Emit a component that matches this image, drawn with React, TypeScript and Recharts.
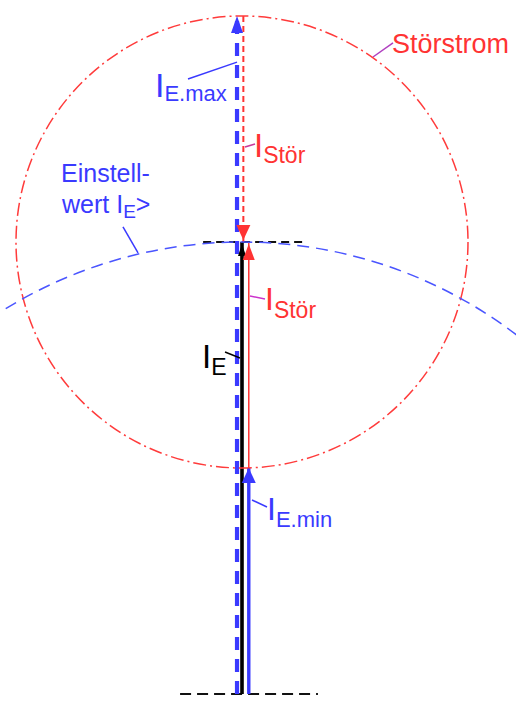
import { ComposedChart, Line, XAxis, YAxis, ReferenceDot, ReferenceLine } from 'recharts';

// Zeigerdiagramm, Einheit: Einstellwert I_E> = 100
const vectorNames = ['I_E', 'I_E.min', 'I_Stör (unten)', 'I_E.max', 'I_Stör (oben)'];
const vectorX = [0, 1.5, 1.5, -1.1, 0.3];
const vectorFrom = [0, 0, 50, 0, 150];
const vectorTo = [100, 50, 100, 150, 100];

const circleNames = ['Störstrom', 'Einstellwert'];
const circleCx = [0, 0];
const circleCy = [100, 0];
const circleR = [50, 100];

// gestrichelte Hilfslinien (Nullpunkt und Spitze von I_E)
const helperY = [100, 0];
const helperX1 = [-8.6, -13.7];
const helperX2 = [13.3, 16.8];

const X_MIN = -53.54;
const X_MAX = 60.62;
const Y_MIN = -2.21;
const Y_MAX = 153.54;
const W = 516;
const H = 704;
const PX = W / (X_MAX - X_MIN);

const BLUE = '#3a3aff';
const RED = '#ff3333';
const FONT = '"Liberation Sans", Arial, sans-serif';

const styles = [
  { stroke: '#000', width: 3.6, dash: undefined, head: { c: '#000', w: 4, l: 12, shift: 2 } },
  { stroke: BLUE, width: 3.4, dash: undefined, head: { c: BLUE, w: 7, l: 15, shift: 0 } },
  { stroke: RED, width: 1.5, dash: undefined, head: { c: RED, w: 6, l: 16, shift: 2 } },
  { stroke: BLUE, width: 4.2, dash: '13 9', head: { c: BLUE, w: 6, l: 17, shift: 0 } },
  { stroke: RED, width: 2, dash: '6 4', head: { c: RED, w: 7, l: 15, shift: 2 } },
];

const leaders = [
  { p: [[-11.95, 136.06], [-1.1, 139.8]], c: BLUE },
  { p: [[0.66, 121.0], [2.88, 121.7]], c: '#c8389a' },
  { p: [[28.98, 140.93], [33.41, 144.03]], c: '#b040c0' },
  { p: [[-26.33, 103.32], [-23.0, 97.57]], c: BLUE },
  { p: [[1.77, 88.05], [5.09, 87.39]], c: '#cc33cc' },
  { p: [[-3.76, 75.66], [-0.44, 74.34]], c: '#000' },
  { p: [[2.21, 42.92], [5.53, 41.37]], c: BLUE },
];

const labels = [
  { x: -19.25, y: 132.08, main: 'I', sub: 'E.max', after: '', c: BLUE, ms: 34, ss: 22, dy: 4 },
  { x: 2.65, y: 118.81, main: 'I', sub: 'Stör', after: '', c: RED, ms: 33, ss: 23, dy: 6 },
  { x: 5.09, y: 84.96, main: 'I', sub: 'Stör', after: '', c: RED, ms: 32, ss: 23, dy: 8 },
  { x: -8.85, y: 72.12, main: 'I', sub: 'E', after: '', c: '#000', ms: 33, ss: 23, dy: 7 },
  { x: 5.53, y: 38.5, main: 'I', sub: 'E.min', after: '', c: BLUE, ms: 32, ss: 22, dy: 7 },
  { x: 33.19, y: 141.81, main: 'Störstrom', sub: '', after: '', c: RED, ms: 27, ss: 0, dy: 0 },
  { x: -40.04, y: 113.27, main: 'Einstell-', sub: '', after: '', c: BLUE, ms: 25, ss: 0, dy: 0 },
  { x: -39.82, y: 106.42, main: 'wert I', sub: 'E', after: '>', c: BLUE, ms: 25, ss: 19, dy: 5 },
];

const vectors = vectorNames.map((name, i) => ({
  name,
  data: [
    { x: vectorX[i], y: vectorFrom[i] },
    { x: vectorX[i], y: vectorTo[i] },
  ],
  up: vectorTo[i] > vectorFrom[i],
}));

function arrowDot(head: { c: string; w: number; l: number; shift: number }, up: boolean) {
  return (props: any) => {
    const { cx, cy, index } = props;
    if (index !== 1) return <g key={`d${index}`} />;
    const s = up ? 1 : -1;
    const ty = cy + head.shift * s;
    const by = ty + head.l * s;
    return (
      <polygon
        key={`d${index}`}
        points={`${cx},${ty} ${cx - head.w},${by} ${cx + head.w},${by}`}
        fill={head.c}
      />
    );
  };
}

export default function App() {
  return (
    <div style={{ position: 'absolute', left: 0, top: 0, width: W, height: H, background: '#fff' }}>
      <ComposedChart width={W} height={H} margin={{ top: 0, right: 0, bottom: 0, left: 0 }}>
        <XAxis type="number" dataKey="x" domain={[X_MIN, X_MAX]} allowDataOverflow hide />
        <YAxis type="number" dataKey="y" domain={[Y_MIN, Y_MAX]} allowDataOverflow hide />

        {circleNames.map((n, i) => (
          <ReferenceDot
            key={n}
            x={circleCx[i]}
            y={circleCy[i]}
            r={circleR[i] * PX}
            fill="none"
            stroke={i === 0 ? '#ff3b3b' : '#4a55ff'}
            strokeWidth={1.5}
            strokeDasharray={i === 0 ? '13 4 2 4' : '12 7'}
            ifOverflow="visible"
          />
        ))}

        {helperY.map((y, i) => (
          <ReferenceLine
            key={`h${i}`}
            segment={[{ x: helperX1[i], y }, { x: helperX2[i], y }]}
            stroke="#111"
            strokeWidth={2}
            strokeDasharray={i === 0 ? '8 5' : '11 6'}
            ifOverflow="visible"
          />
        ))}

        {vectors.map((v, i) => (
          <Line
            key={v.name}
            data={v.data}
            dataKey="y"
            type="linear"
            stroke={styles[i].stroke}
            strokeWidth={styles[i].width}
            strokeDasharray={styles[i].dash}
            dot={arrowDot(styles[i].head, v.up)}
            activeDot={false}
            legendType="none"
            isAnimationActive={false}
          />
        ))}

        {leaders.map((l, i) => (
          <ReferenceLine
            key={`l${i}`}
            segment={[{ x: l.p[0][0], y: l.p[0][1] }, { x: l.p[1][0], y: l.p[1][1] }]}
            stroke={l.c}
            strokeWidth={1.5}
            ifOverflow="visible"
          />
        ))}

        {labels.map((t, i) => (
          <ReferenceDot
            key={`t${i}`}
            x={t.x}
            y={t.y}
            r={0}
            ifOverflow="visible"
            shape={(p: any) => (
              <text x={p.cx} y={p.cy} fill={t.c} fontFamily={FONT}>
                <tspan fontSize={t.ms}>{t.main}</tspan>
                {t.sub && (
                  <tspan fontSize={t.ss} dy={t.dy}>
                    {t.sub}
                  </tspan>
                )}
                {t.after && (
                  <tspan fontSize={t.ms} dy={-t.dy}>
                    {t.after}
                  </tspan>
                )}
              </text>
            )}
          />
        ))}
      </ComposedChart>
    </div>
  );
}
